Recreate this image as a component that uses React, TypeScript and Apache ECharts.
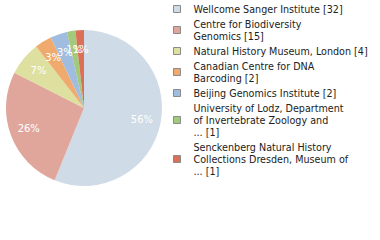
import React, { useEffect, useRef } from "react";
import * as echarts from "echarts";

const names = [
  "Wellcome Sanger Institute",
  "Centre for Biodiversity\nGenomics",
  "Natural History Museum, London",
  "Canadian Centre for DNA\nBarcoding",
  "Beijing Genomics Institute",
  "University of Lodz, Department\nof Invertebrate Zoology and\n...",
  "Senckenberg Natural History\nCollections Dresden, Museum of\n...",
];
const values = [32, 15, 4, 2, 2, 1, 1];
const colors = ["#cfdbe6", "#e0a69b", "#dde09f", "#f0aa6d", "#a0bde0", "#a3c97a", "#dc6f58"];

export default function App() {
  const ref = useRef<HTMLDivElement>(null);
  useEffect(() => {
    if (!ref.current) return;
    const chart = echarts.init(ref.current, null, { renderer: "svg" });
    const total = values.reduce((a, b) => a + b, 0);
    const data = names.map((n, i) => ({ name: n, value: values[i], itemStyle: { color: colors[i] } }));
    const valueOf: Record<string, number> = {};
    names.forEach((n, i) => (valueOf[n] = values[i]));
    chart.setOption({
      animation: false,
      legend: {
        orient: "vertical",
        left: 173,
        top: 3,
        padding: 0,
        itemGap: 3,
        itemWidth: 7,
        itemHeight: 7,
        icon: "rect",
        selectedMode: false,
        itemStyle: { borderColor: "#8a8a8a", borderWidth: 1 },
        textStyle: {
          fontFamily: "DejaVu Sans",
          fontSize: 9.6,
          lineHeight: 12,
          color: "#222",
          padding: [0, 0, 0, 8],
        },
        formatter: (n: string) => `${n} [${valueOf[n]}]`,
        data: names,
      },
      series: [
        {
          type: "pie",
          center: [84, 108],
          radius: [0, 78],
          startAngle: 90,
          clockwise: true,
          label: { show: false },
          labelLine: { show: false },
          silent: true,
          data,
        },
        {
          type: "pie",
          center: [84, 108],
          radius: [34, 78],
          startAngle: 90,
          clockwise: true,
          silent: true,
          avoidLabelOverlap: false,
          labelLayout: { hideOverlap: false },
          itemStyle: { color: "rgba(0,0,0,0)" },
          labelLine: { show: false },
          label: {
            show: true,
            position: "inside",
            color: "#fff",
            fontFamily: "DejaVu Sans",
            fontSize: 10,
            formatter: (p: any) => `${Math.floor((p.value / total) * 100)}%`,
          },
          data: names.map((n, i) => ({ name: n, value: values[i], itemStyle: { color: "rgba(0,0,0,0)" } })),
        },
      ],
    });
    return () => chart.dispose();
  }, []);
  return <div ref={ref} style={{ width: 380, height: 240, position: "absolute", left: 0, top: 0 }} />;
}
